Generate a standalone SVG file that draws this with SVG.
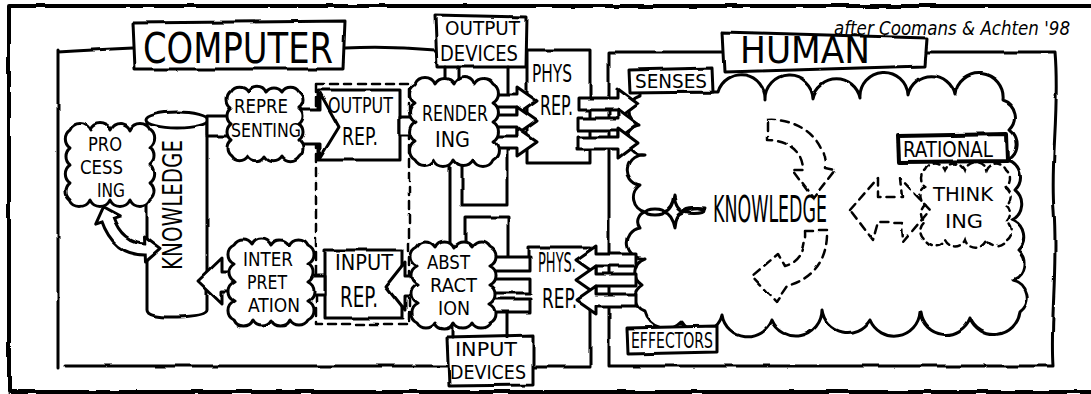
<svg xmlns="http://www.w3.org/2000/svg" width="1091" height="394" viewBox="0 0 1091 394">
  <defs>
    <!-- slight wobble so the ink lines read as hand drawn -->
    <filter id="rough" filterUnits="userSpaceOnUse" x="0" y="0" width="1091" height="394">
      <feTurbulence type="fractalNoise" baseFrequency="0.035" numOctaves="2" seed="7" result="noise"/>
      <feDisplacementMap in="SourceGraphic" in2="noise" scale="3" xChannelSelector="R" yChannelSelector="G"/>
    </filter>
  </defs>
  <style>
    .ln{fill:none;stroke:#000;stroke-width:3;stroke-linecap:round;stroke-linejoin:round;filter:url(#rough)}
    .sh{fill:#fff;stroke:#000;stroke-width:3;stroke-linecap:round;stroke-linejoin:round;filter:url(#rough)}
    .dash{fill:none;stroke:#000;stroke-width:2.5;stroke-dasharray:8 6;stroke-linecap:round;stroke-linejoin:round;filter:url(#rough)}
    .dashc{fill:none;stroke:#000;stroke-width:2.5;stroke-dasharray:6 5;stroke-linecap:round;filter:url(#rough)}
    text{font-family:'Liberation Sans Narrow','DejaVu Sans Condensed','Liberation Sans',sans-serif;fill:#000}
  </style>

  <rect x="0" y="0" width="1091" height="394" fill="#fff"/>

  <!-- outer frame -->
  <path class="ln" style="stroke-width:4" d="M1091 6 L9 6 L9 392 L1091 392"/>

  <!-- credit line -->
  <text id="credit" x="834" y="35" font-size="20" font-style="italic" textLength="236" lengthAdjust="spacingAndGlyphs">after Coomans &amp; Achten '98</text>

  <!-- ===== HUMAN side ===== -->
  <g id="human-frame">
    <path class="ln" d="M722 52 L609 52 L609 366 L1053 366 C1050 320 1058 270 1054 210 C1050 160 1060 110 1055 52 L927 52"/>
    <polygon class="sh" points="722,32 927,38 925,66 724,72"/>
    <text x="740" y="63" font-size="37" textLength="130" lengthAdjust="spacingAndGlyphs">HUMAN</text>
  </g>

  <g id="human-knowledge">
    <path class="sh" d="M640 92 L718 92
      A24 24 0 0 1 765 100 A24 24 0 0 1 813 98 A24 24 0 0 1 860 98
      A24 24 0 0 1 908 95 A24 24 0 0 1 955 95 A24 24 0 0 1 1003 100
      A18 18 0 0 1 1010 130 A18 18 0 0 1 1008 160 A18 18 0 0 1 1015 190
      A18 18 0 0 1 1012 220 A18 18 0 0 1 1018 250 A18 18 0 0 1 1013 280
      A18 18 0 0 1 1020 312
      A26 26 0 0 1 970 318 A26 26 0 0 1 920 312 A26 26 0 0 1 870 320
      A26 26 0 0 1 822 310 A26 26 0 0 1 772 320 A26 26 0 0 1 722 315
      A22 22 0 0 1 682 322 A22 22 0 0 1 645 312
      A15 15 0 0 1 642 285 A15 15 0 0 1 645 258 A15 15 0 0 1 640 228
      A10 10 0 0 1 645 212 A15 15 0 0 1 640 185 A15 15 0 0 1 645 155
      A15 15 0 0 1 640 125 A15 15 0 0 1 640 96 Z"/>
    <!-- little star link from the cloud rim to the label -->
    <ellipse class="ln" cx="655" cy="212" rx="9" ry="3"/>
    <path class="ln" d="M674 196 Q676 210 684 212 Q676 214 675 228 Q672 214 664 212 Q672 210 674 196 Z"/>
    <path class="ln" d="M684 211 Q694 206 705 208"/>
    <ellipse class="ln" cx="694" cy="210" rx="10" ry="2.5"/>
    <text x="713" y="222" font-size="38" textLength="114" lengthAdjust="spacingAndGlyphs">KNOWLEDGE</text>
    <!-- dashed cycle arrows -->
    <path class="dash" d="M767 120 C795 118 825 135 825 168 L835 170 L813 198 L792 170 L803 170 C803 150 786 140 767 140 Z"/>
    <path class="dash" d="M805 230 L827 230 C828 258 815 278 787 286 L776 302 L752 276 L778 254 L785 266 C800 262 806 250 805 230 Z"/>
    <path class="dash" d="M850 210 L878 178 L878 197 L902 197 L900 178 L930 210 L903 242 L902 222 L878 222 L873 240 Z"/>
  </g>

  <g id="senses">
    <polygon class="sh" points="629,70 712,68 713,92 630,93"/>
    <text x="635" y="88" font-size="19" textLength="72" lengthAdjust="spacingAndGlyphs">SENSES</text>
  </g>

  <g id="effectors">
    <polygon class="sh" points="627,328 717,326 717,352 628,354"/>
    <text x="631" y="348" font-size="21" textLength="82" lengthAdjust="spacingAndGlyphs">EFFECTORS</text>
  </g>

  <g id="rational">
    <polygon class="sh" style="stroke-width:4" points="898,136 1007,134 1008,161 899,162"/>
    <text x="903" y="157" font-size="21" textLength="90" lengthAdjust="spacingAndGlyphs">RATIONAL</text>
  </g>

  <g id="thinking">
    <path class="dashc" d="M925 170 a11 11 0 0 1 20 0 a11 11 0 0 1 20 0 a11 11 0 0 1 21 0 a11 11 0 0 1 20 0
      a11 11 0 0 1 0 17 a11 11 0 0 1 0 18 a11 11 0 0 1 0 17 a11 11 0 0 1 0 18
      a11 11 0 0 1 -20 0 a11 11 0 0 1 -21 0 a11 11 0 0 1 -20 0 a11 11 0 0 1 -20 0
      a11 11 0 0 1 0 -18 a11 11 0 0 1 0 -17 a11 11 0 0 1 0 -18 a11 11 0 0 1 0 -17 Z"/>
    <text x="933" y="201" font-size="20" textLength="60" lengthAdjust="spacingAndGlyphs">THINK</text>
    <text x="945" y="228" font-size="20" textLength="38" lengthAdjust="spacingAndGlyphs">ING</text>
  </g>

  <!-- ===== COMPUTER side ===== -->
  <g id="computer-frame">
    <path class="ln" d="M58 52 Q90 50 133 48 M345 48 Q390 46 435 50 M58 50 L58 368 M65 366 L447 366"/>
    <polygon class="sh" points="133,23 345,21 343,69 135,69"/>
    <text x="143" y="63" font-size="43" textLength="190" lengthAdjust="spacingAndGlyphs">COMPUTER</text>
  </g>

  <g id="phys-rep-out">
    <path class="sh" d="M527 50 L590 50 L590 163 L527 163 Z"/>
    <text x="532" y="82" font-size="24" textLength="40" lengthAdjust="spacingAndGlyphs">PHYS</text>
    <text x="540" y="115" font-size="26" textLength="33" lengthAdjust="spacingAndGlyphs">REP.</text>
  </g>

  <g id="phys-rep-in">
    <path class="ln" d="M528 258 L528 247 L590 247 L590 367 L533 367"/>
    <text x="538" y="272" font-size="26" textLength="38" lengthAdjust="spacingAndGlyphs">PHYS.</text>
    <text x="542" y="308" font-size="27" textLength="35" lengthAdjust="spacingAndGlyphs">REP.</text>
  </g>

  <g id="output-devices">
    <polygon class="sh" points="435,15 527,17 526,67 437,67"/>
    <text x="445" y="35" font-size="20" textLength="75" lengthAdjust="spacingAndGlyphs">OUTPUT</text>
    <text x="440" y="61" font-size="21" textLength="78" lengthAdjust="spacingAndGlyphs">DEVICES</text>
  </g>

  <g id="input-devices">
    <polygon class="sh" points="447,337 533,335 533,385 449,386"/>
    <text x="455" y="356" font-size="19" textLength="62" lengthAdjust="spacingAndGlyphs">INPUT</text>
    <text x="450" y="379" font-size="19" textLength="76" lengthAdjust="spacingAndGlyphs">DEVICES</text>
  </g>

  <g id="knowledge-store">
    <path class="sh" d="M147 120 L147 310 Q147 318 177 317 Q207 316 207 310 L207 120"/>
    <ellipse class="sh" cx="177" cy="120" rx="31" ry="8"/>
    <text transform="translate(182 205) rotate(-90)" x="0" y="0" text-anchor="middle" font-size="26" textLength="130" lengthAdjust="spacingAndGlyphs">KNOWLEDGE</text>
  </g>

  <g id="rep-layer">
    <rect class="dash" x="316" y="84" width="93" height="240"/>
  </g>

  <g id="output-rep">
    <rect class="sh" x="318" y="90" width="82" height="70"/>
    <text x="328" y="113" font-size="21" textLength="65" lengthAdjust="spacingAndGlyphs">OUTPUT</text>
    <text x="342" y="145" font-size="24" textLength="36" lengthAdjust="spacingAndGlyphs">REP.</text>
  </g>

  <g id="input-rep">
    <rect class="sh" x="325" y="250" width="77" height="68"/>
    <text x="335" y="270" font-size="21" textLength="58" lengthAdjust="spacingAndGlyphs">INPUT</text>
    <text x="340" y="307" font-size="28" textLength="38" lengthAdjust="spacingAndGlyphs">REP.</text>
  </g>

  <!-- ===== connectors ===== -->
  <g id="connectors">
    <!-- device wiring -->
    <path class="ln" d="M445 67 L445 86 M458 67 L458 82 M508 67 L508 96
      M450 160 L450 242 M462 162 L462 205 L507 205 L507 148
      M465 242 L465 217 L508 217 L508 257
      M453 322 L453 337 M507 312 L507 337"/>
    <!-- short couplings between stages -->
    <rect class="sh" x="207" y="116" width="27" height="20"/>
    <rect class="sh" x="400" y="117" width="20" height="18"/>
    <rect class="sh" x="305" y="276" width="20" height="19"/>
    <!-- representing -> output rep -->
    <polygon class="sh" points="298,110 320,110 320,93 339,127 320,158 320,144 298,144"/>
    <!-- abstraction -> input rep -->
    <polygon class="sh" points="420,276 405,276 405,262 386,286 405,310 405,296 420,296"/>
    <!-- interpretation -> knowledge -->
    <polygon class="sh" points="236,272 222,272 222,258 198,281 222,304 222,291 236,291"/>
    <!-- rendering -> physical representation -->
    <polygon class="sh" points="482,95 517,95 517,87 537,101 517,115 517,107 482,107"/>
    <polygon class="sh" points="482,115 517,115 517,107 537,121 517,135 517,127 482,127"/>
    <polygon class="sh" points="482,136 517,136 517,128 537,142 517,156 517,148 482,148"/>
    <!-- physical representation -> abstraction -->
    <rect class="sh" x="488" y="257" width="42" height="14"/>
    <rect class="sh" x="488" y="279" width="42" height="14"/>
    <rect class="sh" x="488" y="299" width="42" height="13"/>
    <!-- physical representation -> senses -->
    <polygon class="sh" points="578,98 618,98 618,89 638,104 618,119 618,110 578,110"/>
    <polygon class="sh" points="578,118 618,118 618,109 638,124 618,139 618,130 578,130"/>
    <polygon class="sh" points="578,137 618,137 618,128 638,143 618,158 618,149 578,149"/>
    <!-- effectors -> physical representation -->
    <polygon class="sh" points="636,254 596,254 596,246 576,260 596,274 596,266 636,266"/>
    <polygon class="sh" points="636,274 596,274 596,266 576,280 596,294 596,286 636,286"/>
    <polygon class="sh" points="636,294 596,294 596,286 576,300 596,314 596,306 636,306"/>
    <!-- processing <-> knowledge, curved double arrow -->
    <path d="M107 218 Q118 250 147 249" fill="none" stroke="#000" stroke-width="15" filter="url(#rough)"/>
    <polygon class="sh" points="103.6,206.7 120.3,215.9 95.7,224.1"/>
    <polygon class="sh" points="161,248.4 145.5,262 144.5,236"/>
    <path d="M107 218 Q118 250 147 249" fill="none" stroke="#fff" stroke-width="9" filter="url(#rough)"/>
  </g>

  <!-- ===== computer process clouds ===== -->
  <g id="processing">
    <path class="sh" d="M70 130 a11 11 0 0 1 20 0 a11 11 0 0 1 20 0 a11 11 0 0 1 20 0 a11 11 0 0 1 20 0
      a11 11 0 0 1 0 18 a11 11 0 0 1 0 17 a11 11 0 0 1 0 18 a11 11 0 0 1 0 17
      a11 11 0 0 1 -20 0 a11 11 0 0 1 -20 0 a11 11 0 0 1 -20 0 a11 11 0 0 1 -20 0
      a11 11 0 0 1 0 -17 a11 11 0 0 1 0 -18 a11 11 0 0 1 0 -17 a11 11 0 0 1 0 -18 Z"/>
    <text x="88" y="151" font-size="19" textLength="34" lengthAdjust="spacingAndGlyphs">PRO</text>
    <text x="80" y="174" font-size="19" textLength="43" lengthAdjust="spacingAndGlyphs">CESS</text>
    <text x="97" y="197" font-size="19" textLength="28" lengthAdjust="spacingAndGlyphs">ING</text>
  </g>

  <g id="representing">
    <path class="sh" d="M231 92 a10 10 0 0 1 17 0 a10 10 0 0 1 18 0 a10 10 0 0 1 16 0 a10 10 0 0 1 17 0
      a10 10 0 0 1 0 16 a10 10 0 0 1 0 16 a10 10 0 0 1 0 16 a10 10 0 0 1 0 16
      a10 10 0 0 1 -17 0 a10 10 0 0 1 -17 0 a10 10 0 0 1 -17 0 a10 10 0 0 1 -17 0
      a10 10 0 0 1 0 -16 a10 10 0 0 1 0 -16 a10 10 0 0 1 0 -16 a10 10 0 0 1 0 -16 Z"/>
    <text x="234" y="113" font-size="20" textLength="54" lengthAdjust="spacingAndGlyphs">REPRE</text>
    <text x="231" y="137" font-size="20" textLength="70" lengthAdjust="spacingAndGlyphs">SENTING</text>
  </g>

  <g id="rendering">
    <path class="sh" d="M415 84 a11 11 0 0 1 20 0 a11 11 0 0 1 19 0 a11 11 0 0 1 20 0 a11 11 0 0 1 19 0
      a11 11 0 0 1 0 19 a11 11 0 0 1 0 19 a11 11 0 0 1 0 19 a11 11 0 0 1 0 19
      a11 11 0 0 1 -20 0 a11 11 0 0 1 -19 0 a11 11 0 0 1 -20 0 a11 11 0 0 1 -19 0
      a11 11 0 0 1 0 -19 a11 11 0 0 1 0 -19 a11 11 0 0 1 0 -19 a11 11 0 0 1 0 -19 Z"/>
    <text x="422" y="121" font-size="21" textLength="66" lengthAdjust="spacingAndGlyphs">RENDER</text>
    <text x="435" y="147" font-size="22" textLength="35" lengthAdjust="spacingAndGlyphs">ING</text>
  </g>

  <g id="interpretation">
    <path class="sh" d="M234 245 a10.5 10.5 0 0 1 18 0 a10.5 10.5 0 0 1 19 0 a10.5 10.5 0 0 1 18 0 a10.5 10.5 0 0 1 19 0
      a10.5 10.5 0 0 1 0 19 a10.5 10.5 0 0 1 0 18 a10.5 10.5 0 0 1 0 19 a10.5 10.5 0 0 1 0 19
      a10.5 10.5 0 0 1 -18 0 a10.5 10.5 0 0 1 -19 0 a10.5 10.5 0 0 1 -18 0 a10.5 10.5 0 0 1 -19 0
      a10.5 10.5 0 0 1 0 -19 a10.5 10.5 0 0 1 0 -19 a10.5 10.5 0 0 1 0 -18 a10.5 10.5 0 0 1 0 -19 Z"/>
    <text x="243" y="266" font-size="19" textLength="50" lengthAdjust="spacingAndGlyphs">INTER</text>
    <text x="247" y="289" font-size="19" textLength="40" lengthAdjust="spacingAndGlyphs">PRET</text>
    <text x="248" y="312" font-size="19" textLength="52" lengthAdjust="spacingAndGlyphs">ATION</text>
  </g>

  <g id="abstraction">
    <path class="sh" d="M417 247 a10.5 10.5 0 0 1 18 0 a10.5 10.5 0 0 1 19 0 a10.5 10.5 0 0 1 18 0 a10.5 10.5 0 0 1 18 0
      a10.5 10.5 0 0 1 0 19 a10.5 10.5 0 0 1 0 19 a10.5 10.5 0 0 1 0 19 a10.5 10.5 0 0 1 0 19
      a10.5 10.5 0 0 1 -18 0 a10.5 10.5 0 0 1 -18 0 a10.5 10.5 0 0 1 -19 0 a10.5 10.5 0 0 1 -18 0
      a10.5 10.5 0 0 1 0 -19 a10.5 10.5 0 0 1 0 -19 a10.5 10.5 0 0 1 0 -19 a10.5 10.5 0 0 1 0 -19 Z"/>
    <text x="427" y="269" font-size="19" textLength="43" lengthAdjust="spacingAndGlyphs">ABST</text>
    <text x="430" y="292" font-size="19" textLength="47" lengthAdjust="spacingAndGlyphs">RACT</text>
    <text x="438" y="315" font-size="19" textLength="32" lengthAdjust="spacingAndGlyphs">ION</text>
  </g>
</svg>
